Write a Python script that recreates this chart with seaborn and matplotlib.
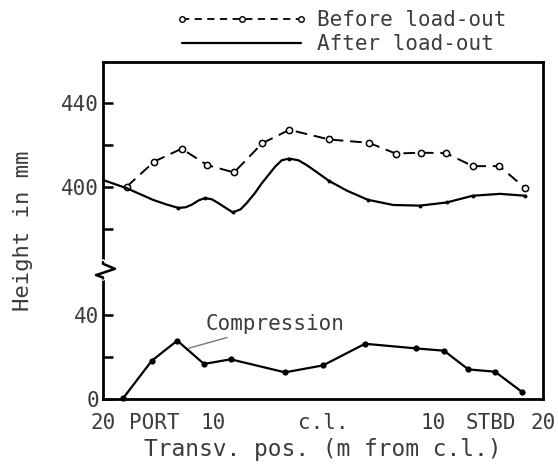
"""Bottom height of a barge across its width, before and after load-out."""

import matplotlib

matplotlib.use("Agg")
import matplotlib.pyplot as plt
import matplotlib.transforms as mtransforms
from matplotlib.lines import Line2D
import pandas as pd
import seaborn as sns

# Upper panel values are shifted down by this many mm so they sit above the axis break.
Y_OFFSET = 299

before_pos = [-17.85, -15.34, -12.85, -10.52, -8.09, -5.52, -3.06, 0.57,
              4.18, 6.61, 8.88, 11.18, 13.61, 16.03, 18.39]
before_height = [400.1, 412.1, 418.2, 410.4, 406.9, 420.8, 427.2, 422.6,
                 421.0, 415.9, 416.3, 416.1, 409.9, 409.9, 399.4]

after_pos = [-20.0, -17.85, -15.43, -14.2, -13.15, -12.5, -11.94, -11.3,
             -10.73, -10.1, -9.52, -8.21, -7.5, -6.94, -6.2, -5.57, -4.97,
             -4.36, -3.75, -3.09, -2.24, -1.48, -0.5, 0.57, 2.15, 4.06, 6.39,
             8.82, 11.24, 13.61, 16.09, 18.39]
after_height = [403.3, 399.4, 393.8, 391.6, 390.0, 390.3, 391.5, 393.6,
                394.7, 394.1, 392.3, 387.9, 389.3, 392.3, 397.0, 401.7, 405.6,
                409.6, 412.7, 413.5, 412.7, 410.4, 406.8, 402.8, 398.3, 393.9,
                391.4, 391.1, 392.6, 395.8, 396.7, 395.8]
after_dot_pos = [-13.15, -10.73, -8.21, -3.09, 0.57, 4.06, 8.82, 11.24, 13.61, 18.39]
after_dot_height = [390.0, 394.7, 387.9, 413.5, 402.8, 393.9, 391.1, 392.6, 395.8, 395.8]

comp_pos = [-18.15, -15.57, -13.25, -10.82, -8.39, -3.45, 0.0, 3.82, 8.45,
            11.0, 13.21, 15.64, 18.06]
comp_value = [0.5, 18.2, 27.8, 16.7, 18.9, 12.7, 16.0, 26.3, 24.1, 23.0,
              14.1, 13.0, 3.5]

x_tick_pos = [-20, -15.3, -10, 0, 10, 15.3, 20]
x_tick_labels = ["20", "PORT", "10", "c.l.", "10", "STBD", "20"]
y_tick_values = [0, 20, 40, 380, 400, 420, 440]
y_tick_labels = ["0", "", "40", "", "400", "", "440"]

TEXT_COLOR = "#3c3c3c"
FONT = ["DejaVu Sans Mono", "Liberation Mono"]


def shifted(values):
    return [v - Y_OFFSET for v in values]


def main():
    sns.set_theme(style="white")
    plt.rcParams["font.family"] = FONT
    plt.rcParams["text.color"] = TEXT_COLOR

    fig = plt.figure(figsize=(5.58, 4.70), dpi=100)
    ax = fig.add_axes([103 / 558, 71 / 470, 440 / 558, 337 / 470])

    before = pd.DataFrame({"pos": before_pos, "h": shifted(before_height)})
    after = pd.DataFrame({"pos": after_pos, "h": shifted(after_height)})
    after_dots = pd.DataFrame({"pos": after_dot_pos, "h": shifted(after_dot_height)})
    comp = pd.DataFrame({"pos": comp_pos, "h": comp_value})

    sns.lineplot(data=before, x="pos", y="h", sort=False, estimator=None,
                 color="black", linewidth=1.4, ax=ax,
                 linestyle=(0, (6, 3.5)), marker="o", markersize=4.5,
                 markerfacecolor="white", markeredgecolor="black",
                 markeredgewidth=1.1)
    sns.lineplot(data=after, x="pos", y="h", sort=False, estimator=None,
                 color="black", linewidth=1.6, ax=ax)
    sns.scatterplot(data=after_dots, x="pos", y="h", color="black", s=8,
                    linewidth=0, ax=ax)
    sns.lineplot(data=comp, x="pos", y="h", sort=False, estimator=None,
                 color="black", linewidth=1.6, marker="o", markersize=4.5,
                 markeredgewidth=0, ax=ax, clip_on=False)

    ax.set_xlim(-20, 20)
    ax.set_ylim(0, 160.5)

    # x: labels without ticks, short inward ticks only at 10 / c.l. / 10
    ax.set_xticks(x_tick_pos)
    ax.set_xticklabels(x_tick_labels)
    ax.set_xticks([-10, 0, 10], minor=True)
    ax.tick_params(axis="x", which="major", length=0, pad=10,
                   labelsize=15, labelcolor=TEXT_COLOR)
    ax.tick_params(axis="x", which="minor", direction="in", length=7,
                   width=1.6, color="black", bottom=True)

    y_pos = [v if v < 200 else v - Y_OFFSET for v in y_tick_values]
    ax.set_yticks(y_pos)
    ax.set_yticklabels(y_tick_labels)
    ax.tick_params(axis="y", direction="in", length=7, width=1.8,
                   color="black", pad=3, labelsize=15, labelcolor=TEXT_COLOR,
                   left=True)

    for spine in ax.spines.values():
        spine.set_color("black")
        spine.set_linewidth(2.0)

    ax.set_xlabel("Transv. pos. (m from c.l.)", fontsize=16.5,
                  color=TEXT_COLOR, labelpad=4)
    ax.set_ylabel("Height in mm", fontsize=16, color=TEXT_COLOR, labelpad=20)

    # axis break on the left spine
    trans = mtransforms.blended_transform_factory(ax.transAxes, ax.transData)
    ax.add_line(Line2D([0, 0], [57.4, 65.2], transform=trans, color="white",
                       linewidth=4, clip_on=False, zorder=3))
    ax.add_line(Line2D([0, 0, 12 / 440, -7 / 440, 0, 0],
                       [65.2, 64.4, 62.0, 59.0, 57.9, 57.4], transform=trans,
                       color="black", linewidth=1.8, clip_on=False, zorder=4,
                       solid_joinstyle="round"))

    # label for the compression curve
    ax.annotate("Compression", xy=(-12.2, 24.2), xytext=(-10.7, 35.6),
                fontsize=15, color=TEXT_COLOR, va="center", ha="left",
                arrowprops=dict(arrowstyle="-", color="#777777", lw=1.0,
                                shrinkA=0, shrinkB=0))

    handles = [
        Line2D([], [], color="black", linewidth=1.3, linestyle=(0, (4, 3)),
               marker="o", markersize=4, markerfacecolor="white",
               markeredgecolor="black"),
        Line2D([], [], color="black", linewidth=1.6),
    ]
    fig.legend(handles, ["Before load-out", "After load-out"],
               loc="upper left", bbox_to_anchor=(176 / 558, 1 - 10 / 470),
               frameon=False, fontsize=15, numpoints=3, handlelength=6.3,
               handletextpad=0.45, labelspacing=0.2, borderaxespad=0,
               borderpad=0)

    fig.savefig("out.png", dpi=100)
    plt.close(fig)


if __name__ == "__main__":
    main()
